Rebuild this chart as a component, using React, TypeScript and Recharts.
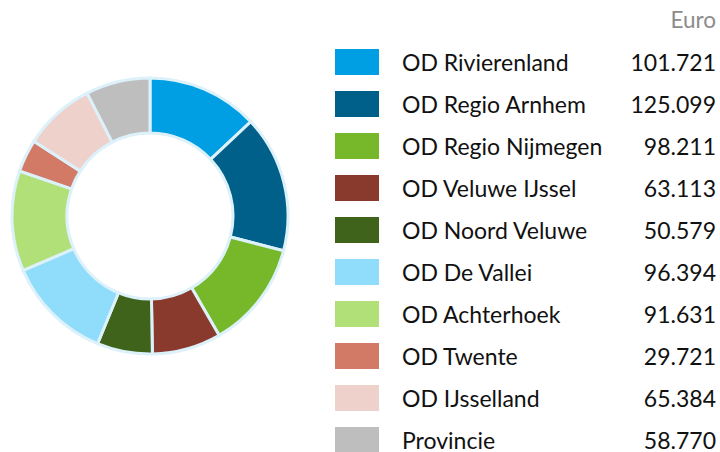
import React from 'react';
import { PieChart, Pie, Cell, Legend } from 'recharts';

const names = [
  'OD Rivierenland',
  'OD Regio Arnhem',
  'OD Regio Nijmegen',
  'OD Veluwe IJssel',
  'OD Noord Veluwe',
  'OD De Vallei',
  'OD Achterhoek',
  'OD Twente',
  'OD IJsselland',
  'Provincie',
];
const values = [101721, 125099, 98211, 63113, 50579, 96394, 91631, 29721, 65384, 58770];
const colors = [
  '#009fe3',
  '#00608a',
  '#76b82a',
  '#8a3a2d',
  '#3f631a',
  '#90dcfb',
  '#b0e077',
  '#d27a66',
  '#efd1cc',
  '#bebebe',
];
const unitLabel = 'Euro';

const data = names.map((name, i) => ({ name, value: values[i] }));

const formatEuro = (v: number) => v.toLocaleString('de-DE');

const LegendTable = () => (
  <div style={{ width: 381, fontFamily: 'Lato, sans-serif', color: '#111' }}>
    <div style={{ textAlign: 'right', fontSize: 22.5, color: '#8c8c8c', height: 41, lineHeight: '40px' }}>
      {unitLabel}
    </div>
    {data.map((d, i) => (
      <div
        key={d.name}
        style={{ display: 'flex', alignItems: 'center', height: 42, fontSize: 23, lineHeight: '22px' }}
      >
        <span style={{ width: 44, height: 26, background: colors[i], marginRight: 23, flex: 'none' }} />
        <span style={{ flex: 1 }}>{d.name}</span>
        <span>{formatEuro(d.value)}</span>
      </div>
    ))}
  </div>
);

export default function App() {
  return (
    <div style={{ position: 'absolute', left: 0, top: 0, width: 720, height: 452, background: '#fff' }}>
      <PieChart width={720} height={452} margin={{ top: 0, right: 0, bottom: 0, left: 0 }}>
        <Pie
          data={data}
          dataKey="value"
          nameKey="name"
          cx={150}
          cy={216}
          innerRadius={83}
          outerRadius={138}
          startAngle={90}
          endAngle={-270}
          stroke="#dcf1fa"
          strokeWidth={3}
          isAnimationActive={false}
        >
          {data.map((d, i) => (
            <Cell key={d.name} fill={colors[i]} />
          ))}
        </Pie>
        <Legend
          content={() => <LegendTable />}
          wrapperStyle={{ position: 'absolute', left: 335, top: 0, width: 381 }}
        />
      </PieChart>
    </div>
  );
}
